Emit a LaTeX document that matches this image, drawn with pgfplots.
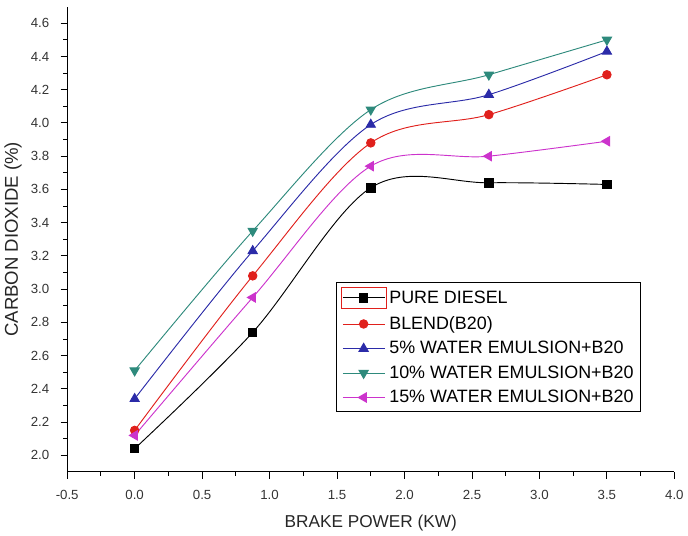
\documentclass[border=0pt]{standalone}
\usepackage{pgfplots}
\pgfplotsset{compat=1.18}
\usepackage{fontspec}
\setmainfont{Liberation Sans}
\definecolor{cblue}{HTML}{2B2BA8}
\definecolor{cteal}{HTML}{2E8A7C}
\definecolor{cmag}{HTML}{CC33CC}
\definecolor{cred}{HTML}{E0201C}
\begin{document}
\begin{tikzpicture}
\begin{axis}[
  scale only axis,
  width=458pt, height=351pt,
  xmin=-0.5, xmax=4.0, ymin=1.9, ymax=4.7,
  axis x line*=bottom, axis y line*=left,
  axis line style={-, line width=0.8pt},
  xtick={-0.5,0,...,4.0},
  ytick={2.0,2.2,...,4.6},
  minor x tick num=1, minor y tick num=1,
  tick align=outside,
  major tick length=5pt, minor tick length=3pt,
  tick style={line width=0.7pt, black},
  /pgf/number format/assume math mode=true,
  /pgf/number format/fixed,
  /pgf/number format/fixed zerofill,
  /pgf/number format/precision=1,
  ticklabel style={font=\fontsize{10}{12}\selectfont, text=black!80},
  xticklabel shift=5pt, yticklabel shift=5pt,
  xlabel={BRAKE POWER (KW)},
  ylabel={CARBON DIOXIDE (\%)},
  xlabel style={font=\fontsize{13}{15}\selectfont, text=black!85, yshift=-5pt},
  ylabel style={font=\fontsize{14}{16}\selectfont, text=black!85, yshift=0pt},
  legend style={at={(0.443,0.408)}, anchor=north west, draw=black, line width=0.7pt,
    font=\fontsize{13.5}{16}\selectfont, row sep=3.5pt, inner ysep=3pt, inner xsep=3pt},
  legend cell align=left,
  legend image code/.code={\draw[mark repeat=2,mark phase=2] plot coordinates {(0cm,0cm) (0.55cm,0cm) (1.1cm,0cm)};},
  every axis plot/.append style={line width=0.7pt, smooth, tension=0.55, mark size=3.2pt},
]
\addplot[black, mark=square*, mark options={fill=black, solid},
  legend image code/.code={\draw[cred, line width=0.6pt, sharp plot] (-0.05cm,-0.29cm) rectangle (1.15cm,0.29cm);
    \draw[mark repeat=2,mark phase=2] plot coordinates {(0cm,0cm) (0.55cm,0cm) (1.1cm,0cm)};}] coordinates {
  (0,2.04) (0.875,2.74) (1.75,3.61) (2.625,3.64) (3.5,3.63)};
\addlegendentry{PURE DIESEL}
\addplot[cred, mark=*, mark options={fill=cred}] coordinates {
  (0,2.15) (0.875,3.08) (1.75,3.88) (2.625,4.05) (3.5,4.29)};
\addlegendentry{BLEND(B20)}
\addplot[cblue, mark=triangle*, mark size=4pt, mark options={fill=cblue}] coordinates {
  (0,2.34) (0.875,3.23) (1.75,3.99) (2.625,4.17) (3.5,4.43)};
\addlegendentry{5\% WATER EMULSION+B20}
\addplot[cteal, mark=triangle*, mark size=4pt, mark options={fill=cteal, rotate=180}] coordinates {
  (0,2.51) (0.875,3.35) (1.75,4.08) (2.625,4.29) (3.5,4.50)};
\addlegendentry{10\% WATER EMULSION+B20}
\addplot[cmag, mark=triangle*, mark size=4pt, mark options={fill=cmag, rotate=90}] coordinates {
  (0,2.12) (0.875,2.95) (1.75,3.74) (2.625,3.80) (3.5,3.89)};
\addlegendentry{15\% WATER EMULSION+B20}
\end{axis}
\path ([yshift=5pt]current axis.north west);
\end{tikzpicture}
\end{document}
